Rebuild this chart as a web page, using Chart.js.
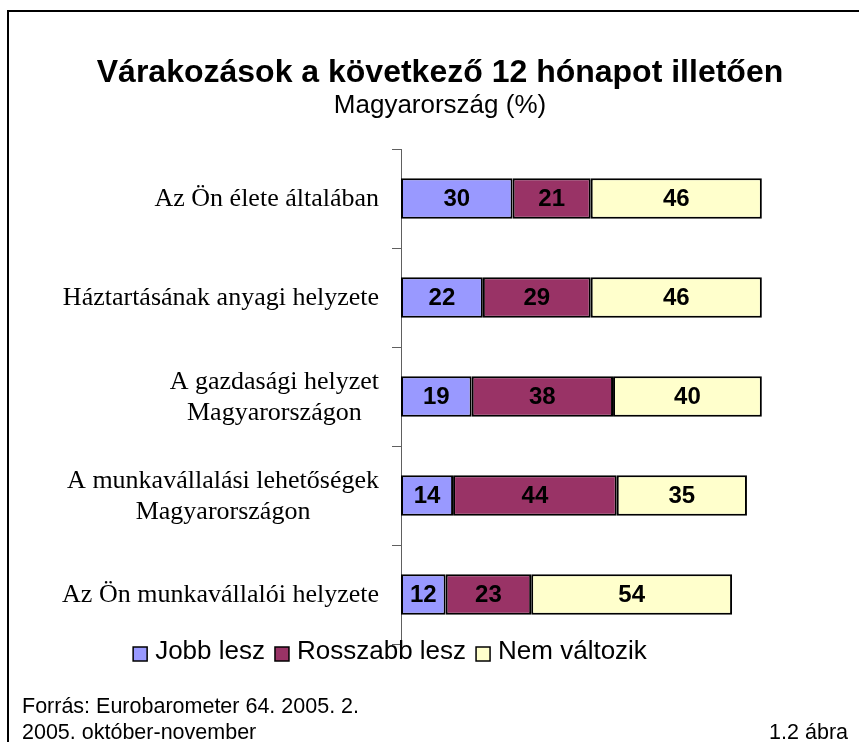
<!DOCTYPE html>
<html>
<head>
<meta charset="utf-8">
<script src="https://cdn.jsdelivr.net/npm/chart.js@4.4.1/dist/chart.umd.min.js"></script>
<style>
  html, body { margin: 0; padding: 0; background: #ffffff; }
  #wrap { position: relative; width: 859px; height: 742px; }
  canvas { display: block; }
</style>
</head>
<body>
<div id="wrap"><canvas id="c" width="859" height="742"></canvas></div>
<script>
// ---- data ----
const categories = [
  ["Az Ön élete általában"],
  ["Háztartásának anyagi helyzete"],
  ["A gazdasági helyzet", "Magyarországon"],
  ["A munkavállalási lehetőségek", "Magyarországon"],
  ["Az Ön munkavállalói helyzete"]
];
const seriesNames = ["Jobb lesz", "Rosszabb lesz", "Nem változik"];
const jobbLesz = [30, 22, 19, 14, 12];
const rosszabbLesz = [21, 29, 38, 44, 23];
const nemValtozik = [46, 46, 40, 35, 54];
const titleText = "Várakozások a következő 12 hónapot illetően";
const subtitleText = "Magyarország (%)";
const sourceLines = ["Forrás: Eurobarometer 64. 2005. 2.", "2005. október-november"];
const figureLabel = "1.2 ábra";

const colors = ["#9999FF", "#993366", "#FFFFCC"];
const SANS = '"Liberation Sans", Arial, sans-serif';
const SERIF = '"Liberation Serif", "Times New Roman", serif';

const decorPlugin = {
  id: 'decor',
  beforeDraw(chart) {
    const ctx = chart.ctx;
    ctx.save();
    ctx.fillStyle = '#ffffff';
    ctx.fillRect(0, 0, chart.width, chart.height);
    ctx.restore();
  },
  afterDraw(chart) {
    const ctx = chart.ctx;
    const yScale = chart.scales.y;
    ctx.save();
    // frame
    ctx.strokeStyle = '#000';
    ctx.lineWidth = 2;
    ctx.beginPath();
    ctx.moveTo(8, 742);
    ctx.lineTo(8, 11);
    ctx.lineTo(859, 11);
    ctx.stroke();

    // title + subtitle
    ctx.fillStyle = '#000';
    ctx.textAlign = 'center';
    ctx.textBaseline = 'middle';
    ctx.font = 'bold 32px ' + SANS;
    ctx.fillText(titleText, 440, 73);
    ctx.font = '26px ' + SANS;
    ctx.fillText(subtitleText, 440, 106);

    // category labels (right-aligned block, lines centred within block)
    ctx.font = '26px ' + SERIF;
    const lh = 31;
    categories.forEach((lines, i) => {
      const y = yScale.getPixelForValue(i);
      const maxW = Math.max(...lines.map(l => ctx.measureText(l).width));
      const cx = 379 - maxW / 2;
      lines.forEach((l, j) => {
        ctx.fillText(l, cx, y + (j - (lines.length - 1) / 2) * lh + 1);
      });
    });

    // data labels
    ctx.font = 'bold 24px ' + SANS;
    chart.data.datasets.forEach((ds, di) => {
      const meta = chart.getDatasetMeta(di);
      meta.data.forEach((el, i) => {
        const p = el.getProps(['x', 'y', 'base'], true);
        ctx.fillText(String(ds.data[i]), (p.x + p.base) / 2, p.y + 1);
      });
    });

    // legend
    ctx.font = '26px ' + SANS;
    ctx.textAlign = 'left';
    const box = 14, gapBox = 8, gapItem = 10;
    let total = 0;
    const widths = chart.data.datasets.map(ds => ctx.measureText(ds.label).width);
    widths.forEach((w, i) => { total += box + gapBox + w + (i < widths.length - 1 ? gapItem : 0); });
    let x = 390 - total / 2;
    const ly = 654;
    chart.data.datasets.forEach((ds, i) => {
      ctx.fillStyle = ds.backgroundColor;
      ctx.fillRect(x, ly - box / 2, box, box);
      ctx.strokeStyle = '#000';
      ctx.lineWidth = 1.5;
      ctx.strokeRect(x, ly - box / 2, box, box);
      ctx.fillStyle = '#000';
      ctx.fillText(ds.label, x + box + gapBox, ly - 2);
      x += box + gapBox + widths[i] + gapItem;
    });

    // footer
    ctx.font = '21.5px ' + SANS;
    ctx.textAlign = 'left';
    ctx.fillText(sourceLines[0], 22, 707);
    ctx.fillText(sourceLines[1], 22, 733);
    ctx.textAlign = 'right';
    ctx.fillText(figureLabel, 848, 733);
    ctx.restore();
  }
};

const seriesValues = [jobbLesz, rosszabbLesz, nemValtozik];
new Chart(document.getElementById('c'), {
  type: 'bar',
  data: {
    labels: categories,
    datasets: seriesNames.map((name, i) => ({
      label: name,
      data: seriesValues[i],
      backgroundColor: colors[i],
      borderColor: '#000',
      borderWidth: 2,
      borderSkipped: false,
      barPercentage: 0.41,
      categoryPercentage: 1.0
    }))
  },
  options: {
    indexAxis: 'y',
    responsive: false,
    animation: false,
    devicePixelRatio: 1,
    layout: { padding: { left: 391, right: 86, top: 149, bottom: 98 } },
    plugins: {
      legend: { display: false },
      title: { display: false },
      tooltip: { enabled: false }
    },
    scales: {
      x: { stacked: true, display: false, min: 0, max: 100 },
      y: {
        stacked: true,
        afterFit: (s) => { s.width = 10; },
        ticks: { display: false },
        grid: { display: true, drawOnChartArea: false, drawTicks: true, tickLength: 9, color: '#606060', lineWidth: 1, offset: true },
        border: { display: true, color: '#606060', width: 1 }
      }
    }
  },
  plugins: [decorPlugin]
});
</script>
</body>
</html>
